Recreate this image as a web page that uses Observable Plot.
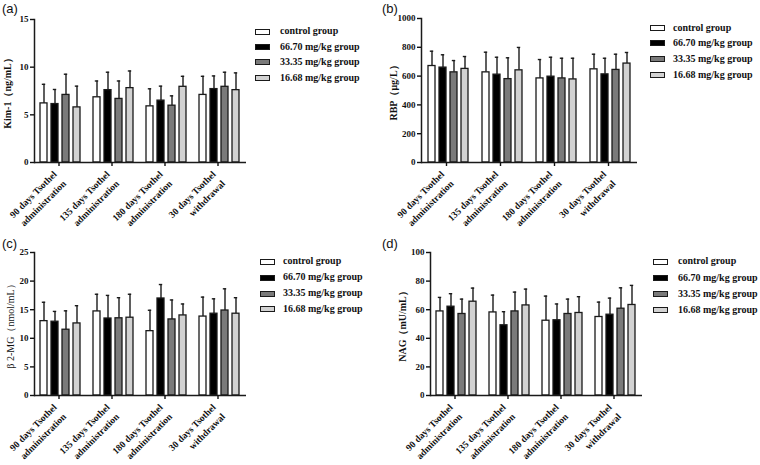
<!DOCTYPE html>
<html><head><meta charset="utf-8">
<script src="https://cdn.jsdelivr.net/npm/d3@7"></script>
<script src="https://cdn.jsdelivr.net/npm/@observablehq/plot@0.6"></script>
<style>
body{margin:0;background:#fff}
#root{position:relative;width:760px;height:465px;overflow:hidden;background:#fff}
.panel{position:absolute}
.tag{position:absolute;font-family:"Liberation Sans",Arial,sans-serif;font-size:13px;color:#111;line-height:1}
.lg{position:absolute;font-family:"Liberation Serif","Times New Roman",serif;font-weight:bold;font-size:10px;color:#111;white-space:nowrap;line-height:1}
.sw{position:absolute;box-sizing:border-box;width:15px;height:6px;border:1.3px solid #1a1a1a}
</style></head><body><div id="root"></div>
<script>
// ---------- data ----------
const timepoints = ["90 days Tsothel administration", "135 days Tsothel administration", "180 days Tsothel administration", "30 days Tsothel withdrawal"];
const tickLabels = ["90 days Tsothel\nadministration", "135 days Tsothel\nadministration", "180 days Tsothel\nadministration", "30 days Tsothel\nwithdrawal"];
const groups = ["control group", "66.70 mg/kg group", "33.35 mg/kg group", "16.68 mg/kg group"];
const groupColors = ["#ffffff", "#000000", "#7a7a7a", "#d2d2d2"];

// rows = timepoints, columns = groups
const kimMean = [[6.20, 6.13, 7.09, 5.78], [6.84, 7.59, 6.67, 7.80], [5.89, 6.49, 5.96, 7.94], [7.09, 7.70, 7.94, 7.59]];
const kimSD   = [[2.00, 1.53, 2.17, 2.23], [1.71, 1.88, 1.88, 1.80], [1.84, 1.52, 1.03, 1.10], [1.95, 1.38, 1.53, 1.81]];
const kimTicks = [0, 5, 10, 15];

const rbpMean = [[670, 659, 626, 650], [626, 610, 579, 640], [584, 596, 584, 577], [647, 612, 643, 687]];
const rbpSD   = [[103, 89, 82, 86], [140, 121, 148, 159], [131, 135, 140, 147], [105, 112, 109, 77]];
const rbpTicks = [0, 200, 400, 600, 800, 1000];

const b2mMean = [[13.0, 12.9, 11.5, 12.6], [14.7, 13.46, 13.5, 13.6], [11.25, 16.96, 13.3, 14.0], [13.8, 14.3, 14.86, 14.3]];
const b2mSD   = [[3.3, 1.8, 3.3, 3.1], [3.0, 4.04, 3.6, 4.1], [3.65, 2.44, 3.4, 2.0], [3.4, 2.6, 3.79, 2.8]];
const b2mTicks = [0, 5, 10, 15, 20, 25];

const nagMean = [[58.8, 62.1, 57.0, 65.6], [58.1, 49.1, 58.8, 63.0], [52.3, 52.6, 57.0, 57.7], [54.9, 56.5, 60.7, 63.3]];
const nagSD   = [[9.8, 9.1, 10.4, 9.5], [12.1, 9.5, 13.5, 11.4], [17.2, 11.4, 10.4, 11.4], [10.4, 11.6, 14.6, 13.7]];
const nagTicks = [0, 20, 40, 60, 80, 100];

// ---------- layout ----------
const panels = [
  {tag: "(a)", label: "Kim-1（ng/mL）", mean: kimMean, sd: kimSD, ticks: kimTicks, left: 0, top: 0, width: 250, height: 235, mL: 33, mR: 3, mT: 19, mB: 73, labelOffset: 31, bold: true,
   legendSwatch: 255, legendText: 280, legendRows: [31.7, 47.3, 62.3, 78]},
  {tag: "(b)", label: "RBP（μg/L）", mean: rbpMean, sd: rbpSD, ticks: rbpTicks, left: 380, top: 0, width: 260, height: 235, mL: 40, mR: 2, mT: 18, mB: 73, labelOffset: 31.5, bold: true,
   legendSwatch: 650, legendText: 673, legendRows: [28.3, 43.3, 59.3, 75]},
  {tag: "(c)", label: "β 2-MG（nmol/mL）", mean: b2mMean, sd: b2mSD, ticks: b2mTicks, left: 0, top: 235, width: 250, height: 230, mL: 33, mR: 3, mT: 17, mB: 70, labelOffset: 28, bold: false,
   legendSwatch: 260, legendText: 283, legendRows: [261.7, 277.7, 293.7, 309]},
  {tag: "(d)", label: "NAG（mU/mL）", mean: nagMean, sd: nagSD, ticks: nagTicks, left: 380, top: 235, width: 262, height: 230, mL: 49, mR: 0, mT: 17, mB: 70, labelOffset: 32, bold: true,
   legendSwatch: 653, legendText: 678, legendRows: [261.7, 278.3, 294.3, 310]}
];

const root = document.getElementById("root");
const serif = '"Liberation Serif","Times New Roman",serif';

for (const p of panels) {
  const data = timepoints.flatMap((t, i) => groups.map((g, j) => ({t, g, mean: p.mean[i][j], up: p.mean[i][j] + p.sd[i][j]})));
  const ymax = p.ticks[p.ticks.length - 1];
  const chart = Plot.plot({
    width: p.width, height: p.height,
    marginLeft: p.mL, marginRight: p.mR, marginTop: p.mT, marginBottom: p.mB,
    style: {fontFamily: serif, fontSize: "9px", fontWeight: "bold", color: "#111", background: "transparent", overflow: "visible"},
    fx: {domain: timepoints, padding: 0},
    x: {domain: groups, paddingInner: 0.32, paddingOuter: 0.56},
    y: {domain: [0, ymax]},
    color: {domain: groups, range: groupColors},
    marks: [
      Plot.ruleX(data, {fx: "t", x: "g", y1: "mean", y2: "up", stroke: "#1a1a1a", strokeWidth: 1.4}),
      Plot.tickY(data, {fx: "t", x: "g", y: "up", stroke: "#1a1a1a", strokeWidth: 1.4, insetLeft: 1.8, insetRight: 1.8}),
      Plot.barY(data, {fx: "t", x: "g", y: "mean", fill: "g", stroke: "#1a1a1a", strokeWidth: 1.3}),
      Plot.ruleY([0], {stroke: "#1a1a1a", strokeWidth: 1.5}),
      Plot.frame({anchor: "left", facet: "super", stroke: "#1a1a1a", strokeWidth: 1.5}),
      Plot.axisX({ticks: [], label: null, tickSize: 0}),
      Plot.axisY({ticks: p.ticks, tickSize: 4, tickPadding: 2, tickFormat: d => String(d), label: p.label, labelAnchor: "center", labelOffset: p.labelOffset, labelArrow: "none", strokeWidth: 1.4}),
      Plot.axisFx({anchor: "bottom", tickSize: 4, tickPadding: 10, dx: -2, tickRotate: -45, lineHeight: 1.4, fontSize: 9.5, strokeWidth: 1.4, tickFormat: d => tickLabels[timepoints.indexOf(d)], label: null})
    ]
  });
  chart.classList.add("panel");
  chart.style.left = p.left + "px";
  chart.style.top = p.top + "px";
  root.appendChild(chart);
  chart.querySelectorAll('g[aria-label="y-axis label"]').forEach(g => {
    g.setAttribute("font-size", "10");
    if (!p.bold) g.setAttribute("font-weight", "normal");
  });

  const tag = document.createElement("div");
  tag.className = "tag";
  tag.textContent = p.tag;
  tag.style.left = (p.left + 2) + "px";
  tag.style.top = (p.top + 2) + "px";
  root.appendChild(tag);

  groups.forEach((g, j) => {
    const sw = document.createElement("div");
    sw.className = "sw";
    sw.style.background = groupColors[j];
    sw.style.left = p.legendSwatch + "px";
    sw.style.top = (p.legendRows[j] - 3) + "px";
    root.appendChild(sw);
    const tx = document.createElement("div");
    tx.className = "lg";
    tx.textContent = g;
    tx.style.left = p.legendText + "px";
    tx.style.top = (p.legendRows[j] - 5.5) + "px";
    root.appendChild(tx);
  });
}
</script>
</body></html>
